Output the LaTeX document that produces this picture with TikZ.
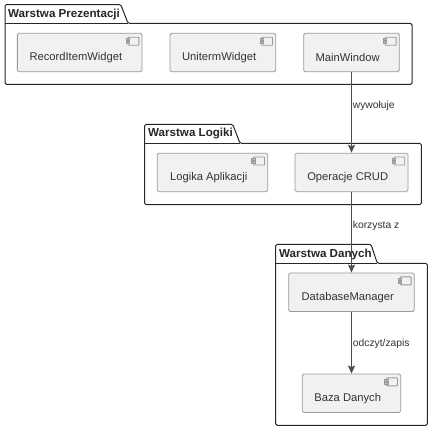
\documentclass[tikz,border=0pt]{standalone}
\usepackage{fontspec}
\setmainfont{Liberation Sans}
\usetikzlibrary{arrows.meta}
\definecolor{boxfill}{HTML}{F1F1F1}
\definecolor{boxline}{HTML}{9A9A9A}
\definecolor{inktext}{HTML}{333333}
\tikzset{
  comp/.style={draw=boxline, fill=boxfill, line width=0.8pt, rounded corners=1.5pt, minimum height=38.5pt, inner sep=0pt},
  compname/.style={font=\fontsize{11.2}{12}\selectfont, text=inktext, xshift=-3.8pt, yshift=-5.2pt},
  pkg/.style={draw=black!85, fill=white, line width=1pt, rounded corners=1.5pt},
  pkgname/.style={font=\fontsize{11.6}{13}\selectfont\bfseries, text=black!85, anchor=west, inner sep=0pt},
  link/.style={draw=black!70, line width=0.8pt, -{Stealth[inset=1.5pt, length=8pt, width=7pt]}},
  linkname/.style={font=\fontsize{10.3}{11}\selectfont, text=inktext, anchor=west, inner sep=0pt},
}
\begin{document}
\begin{tikzpicture}[x=1pt, y=-1pt]
\useasboundingbox[fill=white] (0,0) rectangle (433,431);
% warstwy
\draw[pkg] (5,23.3) -- (5,4.5) -- (120.7,4.5) -- (128,23.3) -- (412,23.3) -- (412,84.3) -- (5,84.3) -- cycle;
\draw[pkg] (5,23.3) -- (128,23.3);
\node[pkgname] (prezentacja) at (8,14.5) {Warstwa Prezentacji};
\draw[pkg] (144.7,143.3) -- (144.7,124.3) -- (232.7,124.3) -- (240,143.3) -- (421.3,143.3) -- (421.3,204.7) -- (144.7,204.7) -- cycle;
\draw[pkg] (144.7,143.3) -- (240,143.3);
\node[pkgname] (logika) at (148,134) {Warstwa Logiki};
\draw[pkg] (275.7,263.3) -- (275.7,244.3) -- (371,244.3) -- (377.3,263.3) -- (427.3,263.3) -- (427.3,425.3) -- (275.7,425.3) -- cycle;
\draw[pkg] (275.7,263.3) -- (377.3,263.3);
\node[pkgname] (dane) at (279,254) {Warstwa Danych};
% komponenty
\node[comp, minimum width=124.7pt, label={[compname]center:RecordItemWidget}] (record) at (79.7,52.5) {};
\node[comp, minimum width=105.7pt, label={[compname]center:UnitermWidget}] (uniterm) at (222.9,52.5) {};
\node[comp, minimum width=95.6pt, label={[compname]center:MainWindow}] (mainwindow) at (351.5,52.5) {};
\node[comp, minimum width=110.4pt, label={[compname]center:Logika Aplikacji}] (aplikacja) at (212.5,172.4) {};
\node[comp, minimum width=113pt, label={[compname]center:Operacje CRUD}] (crud) at (351.5,172.4) {};
\node[comp, minimum width=125.6pt, label={[compname]center:DatabaseManager}] (manager) at (351.5,292.2) {};
\node[comp, minimum width=98.4pt, label={[compname]center:Baza Danych}] (baza) at (351.5,393.2) {};
% ikonki
\foreach \n in {record,uniterm,mainwindow,aplikacja,crud,manager,baza} {
  \draw[boxline, fill=boxfill, line width=0.8pt, rounded corners=0.5pt] ([xshift=-14.5pt,yshift=-4.3pt]\n.north east) rectangle ([xshift=-3.6pt,yshift=-12.3pt]\n.north east);
  \draw[boxline, fill=boxline!70, line width=0.5pt] ([xshift=-16.4pt,yshift=-5.8pt]\n.north east) rectangle ([xshift=-13pt,yshift=-7.8pt]\n.north east);
  \draw[boxline, fill=boxline!70, line width=0.5pt] ([xshift=-16.4pt,yshift=-8.8pt]\n.north east) rectangle ([xshift=-13pt,yshift=-10.8pt]\n.north east);
}
% polaczenia
\draw[link] (mainwindow) -- (crud) node[pos=0.415, linkname, xshift=1pt] (wywoluje) {wywołuje};
\draw[link] (crud) -- (manager) node[pos=0.42, linkname, xshift=1pt] (korzysta) {korzysta z};
\draw[link] (manager) -- (baza) node[pos=0.52, linkname, xshift=1pt] (odczyt) {odczyt/zapis};
\end{tikzpicture}
\end{document}
